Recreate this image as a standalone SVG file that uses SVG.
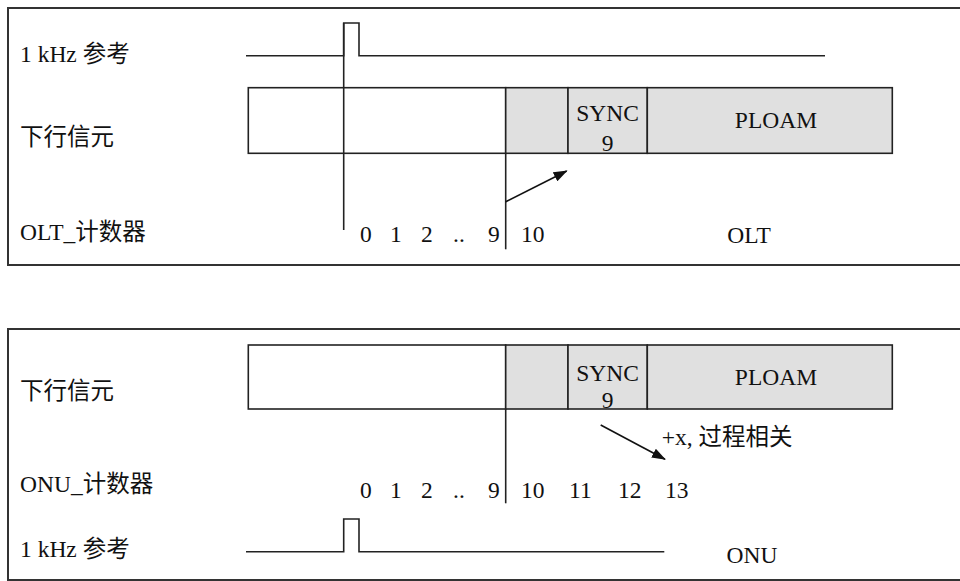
<svg xmlns="http://www.w3.org/2000/svg" width="960" height="581" viewBox="0 0 960 581">
<defs>
<style>
.frame{fill:none;stroke:#333;stroke-width:2}
.ln{fill:none;stroke:#222;stroke-width:1.6}
.box{fill:#fff;stroke:#222;stroke-width:1.6}
.gray{fill:#e0e0e0;stroke:#222;stroke-width:1.6}
.t{font-family:"Liberation Serif","Noto Sans CJK SC",serif;font-size:23.5px;fill:#111}
.c{text-anchor:middle}
.arr{fill:none;stroke:#111;stroke-width:1.6;marker-end:url(#ah)}
</style>
<marker id="ah" viewBox="0 0 14 10" refX="13" refY="5" markerWidth="14" markerHeight="10" markerUnits="userSpaceOnUse" orient="auto">
<path d="M0,0 L14,5 L0,10 z" fill="#111"/>
</marker>
</defs>
<rect width="960" height="581" fill="#fff"/>

<g id="olt-panel">
<rect class="frame" x="8" y="8" width="970" height="257"/>
<text class="t" x="20" y="62">1 kHz 参考</text>
<text class="t" x="20" y="145">下行信元</text>
<text class="t" x="20" y="240">OLT_计数器</text>
<path class="ln" d="M246,55.7 H343.7 V23 H359 V55.7 H825"/>
<g id="olt-frame">
<rect class="box" x="248.3" y="87.7" width="257.4" height="65.6"/>
<rect class="gray" x="505.7" y="87.7" width="62.3" height="65.6"/>
<rect class="gray" x="568" y="87.7" width="79.3" height="65.6"/>
<rect class="gray" x="647.3" y="87.7" width="245" height="65.6"/>
<text class="t c" x="607.6" y="121">SYNC</text>
<text class="t c" x="607.6" y="151">9</text>
<text class="t c" x="776" y="128">PLOAM</text>
</g>
<text class="t" x="360" y="242">0</text>
<text class="t" x="390" y="242">1</text>
<text class="t" x="421" y="242">2</text>
<text class="t" x="453" y="242">..</text>
<text class="t" x="488" y="242">9</text>
<text class="t" x="521" y="242">10</text>
<text class="t c" x="749" y="243">OLT</text>
</g>

<g id="onu-panel">
<rect class="frame" x="8" y="329" width="970" height="251"/>
<text class="t" x="20" y="399">下行信元</text>
<text class="t" x="20" y="492">ONU_计数器</text>
<text class="t" x="20" y="557">1 kHz 参考</text>
<g id="onu-frame">
<rect class="box" x="248.3" y="345" width="257.4" height="64"/>
<rect class="gray" x="505.7" y="345" width="62.3" height="64"/>
<rect class="gray" x="568" y="345" width="79.3" height="64"/>
<rect class="gray" x="647.3" y="345" width="245" height="64"/>
<text class="t c" x="607.6" y="381">SYNC</text>
<text class="t c" x="607.6" y="408">9</text>
<text class="t c" x="776" y="385">PLOAM</text>
</g>
<text class="t" x="661.7" y="445">+x, 过程相关</text>
<text class="t" x="360" y="498">0</text>
<text class="t" x="390" y="498">1</text>
<text class="t" x="421" y="498">2</text>
<text class="t" x="453" y="498">..</text>
<text class="t" x="488" y="498">9</text>
<text class="t" x="521" y="498">10</text>
<text class="t" x="569" y="498">11</text>
<text class="t" x="618" y="498">12</text>
<text class="t" x="665" y="498">13</text>
<path class="ln" d="M246,551.7 H343.7 V519 H359 V551.7 H664.3"/>
<text class="t c" x="752" y="563">ONU</text>
</g>

<g id="connectors">
<line class="ln" x1="343.7" y1="23" x2="343.7" y2="230"/>
<line class="ln" x1="505.7" y1="153.3" x2="505.7" y2="249.3"/>
<line class="arr" x1="505.7" y1="201.7" x2="566.7" y2="171"/>
<line class="ln" x1="505.7" y1="409" x2="505.7" y2="503.3"/>
<line class="arr" x1="600.7" y1="425" x2="665" y2="459.3"/>
</g>
</svg>
